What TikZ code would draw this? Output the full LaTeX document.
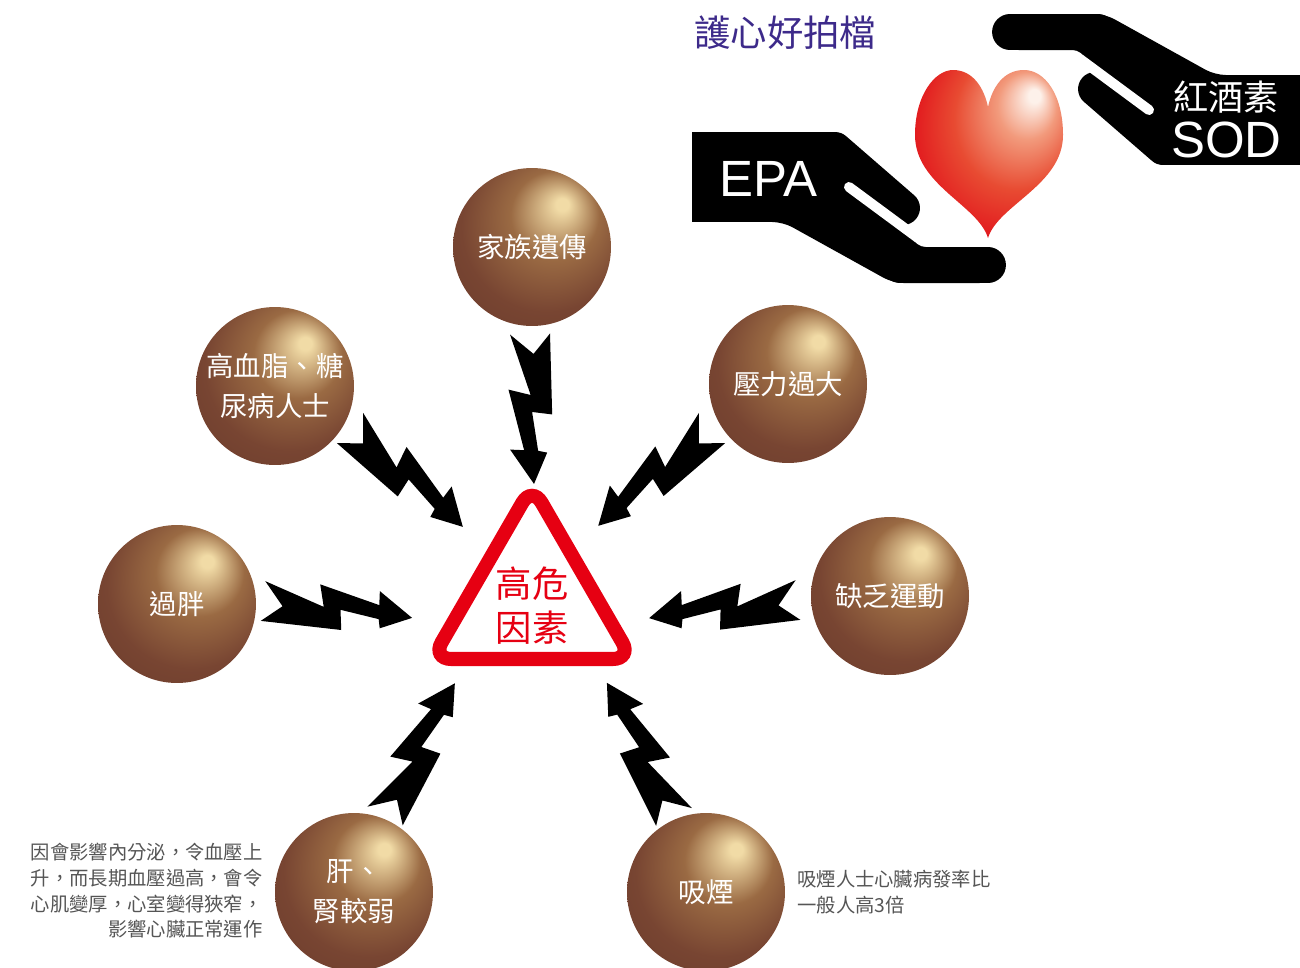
\documentclass[tikz,border=0pt]{standalone}
\usepackage{fontspec}
\setmainfont{Noto Sans CJK TC}
\newfontfamily\latinfont{Liberation Sans}
\usetikzlibrary{calc}

\definecolor{riskred}{HTML}{E60012}
\definecolor{titlepurple}{HTML}{3D2A8A}
\definecolor{notegray}{HTML}{555555}
\definecolor{ballhi}{HTML}{F1DBA6}
\definecolor{ballmid}{HTML}{9A6A43}
\definecolor{balldark}{HTML}{784532}
\definecolor{balledge}{HTML}{6B3C2C}
\definecolor{hearthi}{HTML}{FDF1EA}
\definecolor{heartpale}{HTML}{F29A7C}
\definecolor{heartmid}{HTML}{E84B32}
\definecolor{heartred}{HTML}{E00A18}

\pgfdeclareradialshading{brownball}{\pgfqpoint{10bp}{14bp}}{color(0bp)=(ballhi); color(2bp)=(ballhi); color(14bp)=(ballmid); color(27bp)=(balldark); color(40bp)=(balledge); color(50bp)=(balledge)}
\pgfdeclareradialshading{heartglow}{\pgfqpoint{16bp}{18bp}}{color(0bp)=(hearthi); color(2bp)=(hearthi); color(10bp)=(heartpale); color(21bp)=(heartmid); color(35bp)=(heartred); color(50bp)=(heartred)}

\tikzset{
  bolt/.pic={\fill (0,-20) -- (61,-1) -- (55,-23) -- (116,-9) -- (115,-23) -- (150,0) -- (119,14) -- (117,5) -- (78,0) -- (81,20) -- (0,20) -- (20,3) -- cycle;},
  hand/.pic={
    \fill (692,132) rectangle (805,222);
    \fill[rounded corners=6pt] (780,149) -- (835,149) -- (903,208) -- (915,247) -- (990,247) -- (990,283) -- (893,283) -- (783,222) -- (780,222) -- cycle;
    \draw[line width=19.3pt, line cap=round, line join=round] (780,149) -- (835,149) -- (903,208);
    \draw[line width=20.4pt, line cap=round] (900,265) -- (988,265);
    \draw[white, line width=5.7pt, line cap=round] (849,187) -- (918,238);
  }
}
\newcommand\zap[3][]{\path let \p1=($(#3)-(#2)$), \n1={atan2(\y1,\x1)} in (#2) pic[rotate=\n1,#1] {bolt};}

\begin{document}
\begin{tikzpicture}[x=0.02cm,y=-0.02cm]
\tikzstyle{ball}=[circle,minimum size=3.16cm,inner sep=0pt,shading=brownball,text=white,align=center,font=\fontsize{15.6}{22.7}\selectfont]
\tikzstyle{note}=[text=notegray,inner sep=0pt,font=\fontsize{11}{14.6}\selectfont]
\useasboundingbox (0,0) rectangle (1300,967);
\clip (0,0) rectangle (1300,967);

\node [anchor=west,inner sep=0pt,text=titlepurple,font=\fontsize{20.7}{24}\selectfont] (title) at (694,33) {護心好拍檔};

\pic at (0,0) {hand};
\pic [rotate=180] at (1998,297) {hand};
\shade[shading=heartglow] (988,238) .. controls (978,205) and (915,185) .. (915,135)
  .. controls (915,95) and (935,70) .. (953,70)
  .. controls (973,70) and (984,88) .. (988,107)
  .. controls (992,88) and (1003,70) .. (1024,70)
  .. controls (1045,70) and (1063,95) .. (1063,135)
  .. controls (1063,185) and (998,205) .. (988,238) -- cycle;
\node [anchor=west,inner sep=0pt,text=white,font=\latinfont\fontsize{29}{30}\selectfont] (epa) at (719,179) {EPA};
\node [anchor=west,inner sep=0pt,text=white,font=\fontsize{20}{24}\selectfont] (wine) at (1173,97) {紅酒素};
\node [anchor=west,inner sep=0pt,text=white,font=\latinfont\fontsize{29}{30}\selectfont] (sod) at (1171,140) {SOD};

\draw[riskred,line width=8pt,rounded corners=11pt] (532,659) -- (632,659) -- (532,486) -- (432,659) -- cycle;
\node [text=riskred,align=center,inner sep=0pt,font=\fontsize{20.7}{25}\selectfont] (risk) at (532,606) {高危\\因素};

\node [ball] (gene) at (532,247) {家族遺傳};
\node [ball] (lipid) at (275,386) {高血脂、糖\\尿病人士};
\node [ball] (stress) at (788,384) {壓力過大};
\node [ball] (obese) at (177,604) {過胖};
\node [ball] (idle) at (890,596) {缺乏運動};
\node [ball] (liver) at (354,892) {肝、\\腎較弱};
\node [ball] (smoke) at (706,892) {吸煙};

\coordinate (gene1) at (530,334);
\coordinate (gene2) at (534,483);
\coordinate (lipid1) at (350,428);
\coordinate (lipid2) at (463,527);
\coordinate (stress1) at (712,428);
\coordinate (stress2) at (598,526);
\coordinate (obese1) at (263,601);
\coordinate (obese2) at (413,618);
\coordinate (idle1) at (798,600);
\coordinate (idle2) at (650,618);
\coordinate (liver1) at (385,816);
\coordinate (liver2) at (455,683);
\coordinate (smoke1) at (674,817);
\coordinate (smoke2) at (608,685);
\zap[yscale=-1]{gene1}{gene2}
\zap{lipid1}{lipid2}
\zap[yscale=-1]{stress1}{stress2}
\zap{obese1}{obese2}
\zap[yscale=-1]{idle1}{idle2}
\zap{liver1}{liver2}
\zap[yscale=-1]{smoke1}{smoke2}

\node [note,anchor=east,align=right] (livernote) at (263,891) {因會影響內分泌，令血壓上\\升，而長期血壓過高，會令\\心肌變厚，心室變得狹窄，\\影響心臟正常運作};
\node [note,anchor=west,align=left] (smokenote) at (797,892) {吸煙人士心臟病發率比\\一般人高3倍};
\end{tikzpicture}
\end{document}
